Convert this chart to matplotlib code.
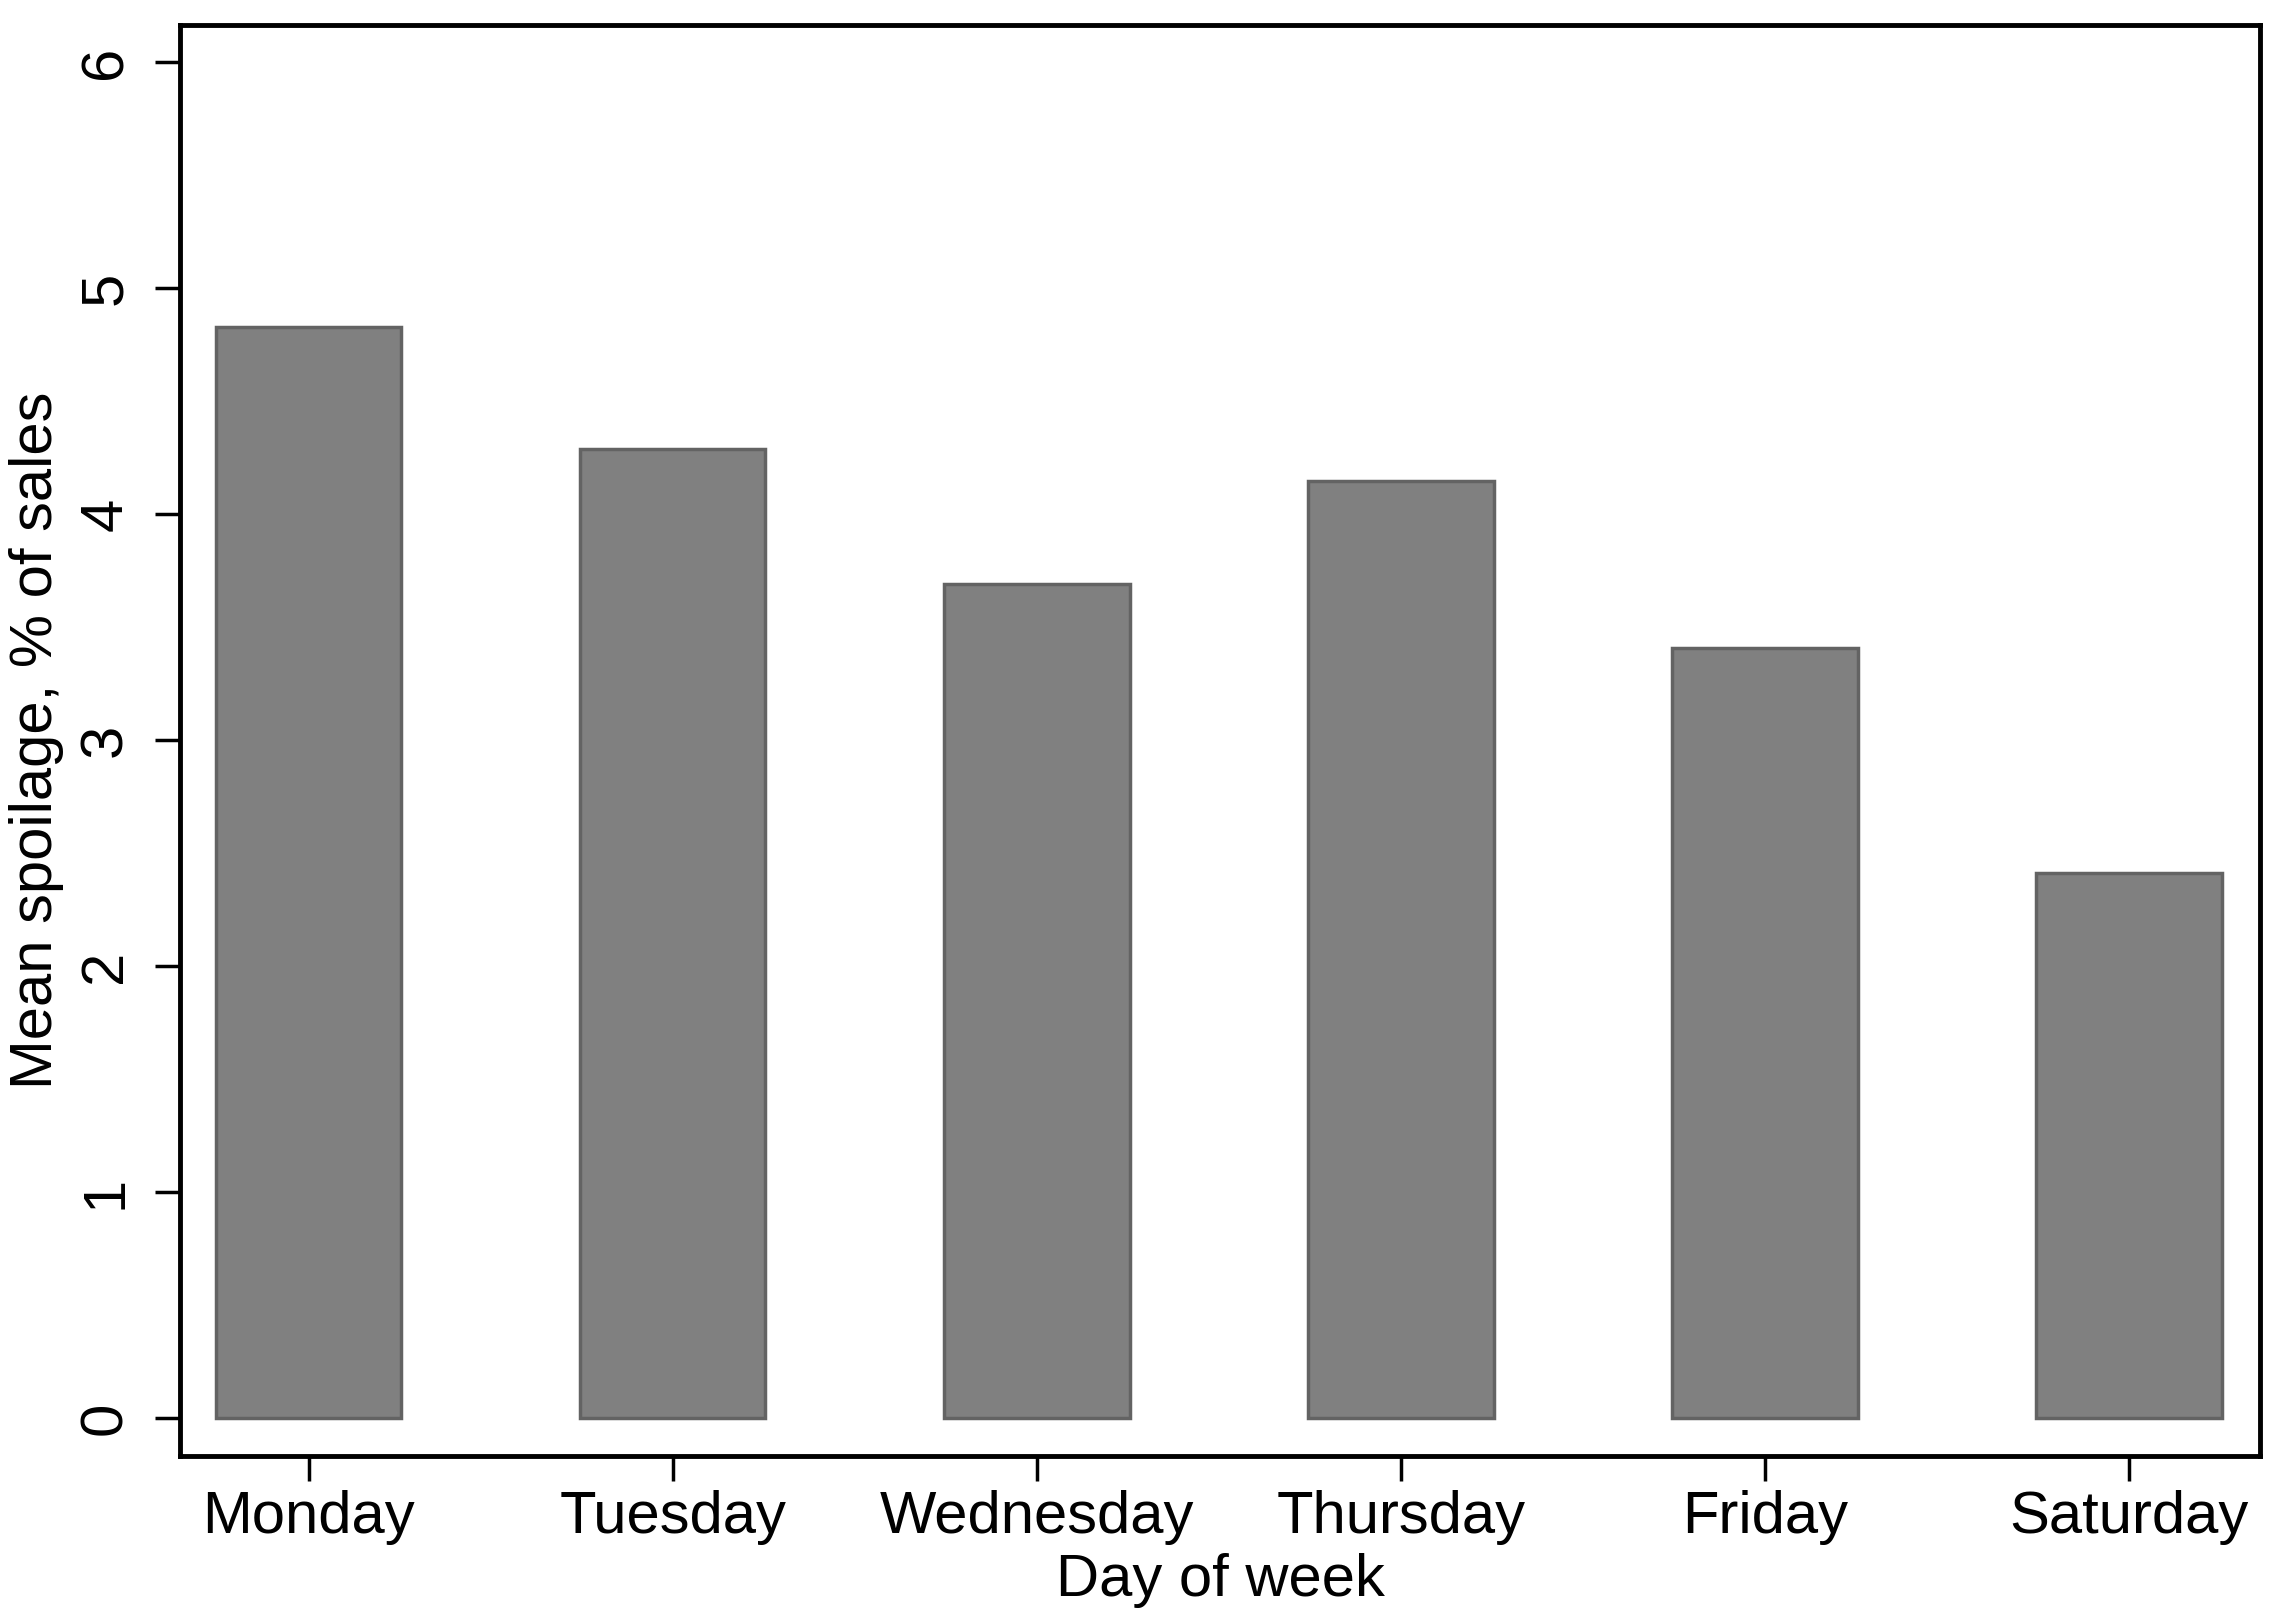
import matplotlib
matplotlib.use("Agg")
import matplotlib.pyplot as plt
import numpy as np

# ------------------------------------------------
# Data
# ------------------------------------------------
days = ["Monday", "Tuesday", "Wednesday", "Thursday", "Friday", "Saturday"]
spoilage = [4.83, 4.29, 3.69, 4.15, 3.41, 2.415]
yticks = [0, 1, 2, 3, 4, 5, 6]

plt.rcParams["font.family"] = ["Liberation Sans", "DejaVu Sans"]

fig = plt.figure(figsize=(22.83, 16.18), dpi=100)
ax = fig.add_axes([0.079, 0.100, 0.911, 0.8847])

x = np.arange(len(days))
ax.bar(x, spoilage, width=0.51, color="#808080", edgecolor="#636363", linewidth=2.5)

# ------------------------------------------------
# Style (Stata-like)
# ------------------------------------------------
ax.set_xlim(-0.352, 5.36)
ax.set_ylim(-0.168, 6.167)
ax.set_xticks(x)
ax.set_xticklabels(days, fontsize=43)
ax.set_yticks(yticks)
ax.set_yticklabels([str(t) for t in yticks], fontsize=43, rotation=90, va="center")

for s in ax.spines.values():
    s.set_linewidth(3.5)
    s.set_color("black")

ax.tick_params(axis="both", length=18, width=2.5, color="black")
ax.tick_params(axis="x", pad=6)
ax.tick_params(axis="y", pad=16)

ax.set_xlabel("Day of week", fontsize=43, labelpad=6)
ax.set_ylabel("Mean spoilage, % of sales", fontsize=43, labelpad=10)

fig.savefig("out.png", dpi=100, facecolor="white")
